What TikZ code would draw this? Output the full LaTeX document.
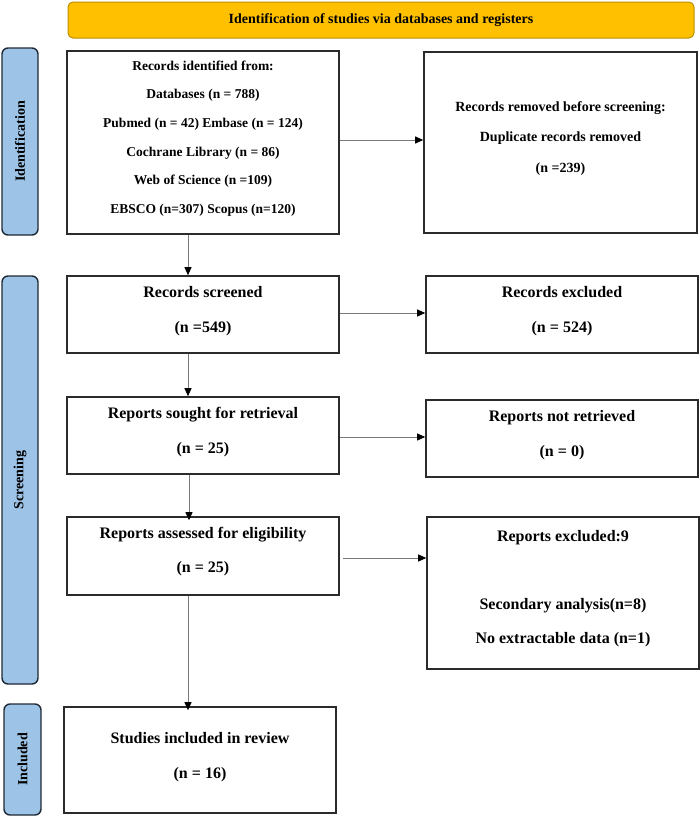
\documentclass[tikz,border=0pt]{standalone}
\usepackage{fontspec}
\setmainfont{Liberation Serif}
\usetikzlibrary{arrows.meta}
\definecolor{gold}{HTML}{FFC000}
\definecolor{goldline}{HTML}{BF9000}
\definecolor{barblue}{HTML}{9DC3E6}
\definecolor{barline}{HTML}{1F2A36}
\definecolor{boxline}{HTML}{2B2B2B}
\definecolor{conn}{HTML}{7A7A7A}
\begin{document}
\begin{tikzpicture}[x=1pt,y=-1pt,
  flowbox/.style={draw=boxline, line width=1.6pt, fill=white, inner sep=0pt},
  boxtext/.style={inner sep=0pt, align=center, font=\fontsize{16}{35}\selectfont\bfseries},
  sidebar/.style={draw=barline, line width=1.4pt, fill=barblue, rounded corners=6pt, inner sep=0pt},
  sidelabel/.style={rotate=90, font=\fontsize{14}{16}\selectfont\bfseries},
  conarrow/.style={draw=conn, line width=0.9pt, -{Triangle[length=8pt,width=7pt,fill=black,color=black]}}
]
\useasboundingbox (0,0) rectangle (700,817);

% header
\node[draw=goldline, line width=1pt, fill=gold, rounded corners=5pt, minimum width=626pt, minimum height=36pt, font=\fontsize{14}{16}\selectfont\bfseries] (head) at (381,20) {Identification of studies via databases and registers};

% side bars
\node[sidebar, minimum width=36pt, minimum height=187pt] (sid) at (20,141.5) {};
\node[sidelabel] (lid) at (sid.center) {Identification};
\node[sidebar, minimum width=36pt, minimum height=408pt] (sscr) at (20,480) {};
\node[sidelabel] (lscr) at (sscr.center) {Screening};
\node[sidebar, minimum width=37pt, minimum height=111pt] (sinc) at (22.5,759.5) {};
\node[sidelabel] (linc) at (sinc.center) {Included};

% boxes
\node[flowbox, minimum width=272pt, minimum height=183pt] (b1) at (203,142.5) {};
\node[boxtext, font=\fontsize{13.5}{28.6}\selectfont\bfseries] (t1) at ([yshift=4pt]b1.center) {Records identified from:\\Databases (n = 788)\\Pubmed (n = 42) Embase (n = 124)\\Cochrane Library (n = 86)\\Web of Science (n =109)\\EBSCO (n=307) Scopus (n=120)};

\node[flowbox, minimum width=273pt, minimum height=181pt] (b2) at (560.5,142.5) {};
\node[boxtext, font=\fontsize{14}{30.5}\selectfont\bfseries] (t2) at ([yshift=4pt]b2.center) {Records removed before screening:\\Duplicate records removed\\(n =239)};

\node[flowbox, minimum width=272pt, minimum height=77pt] (b3) at (203,314.5) {};
\node[boxtext] (t3) at ([yshift=3pt]b3.center) {Records screened\\(n =549)};

\node[flowbox, minimum width=272pt, minimum height=77pt] (b4) at (562,314.5) {};
\node[boxtext] (t4) at ([yshift=3pt]b4.center) {Records excluded\\(n = 524)};

\node[flowbox, minimum width=272pt, minimum height=77pt] (b5) at (203,435.5) {};
\node[boxtext] (t5) at ([yshift=3pt]b5.center) {Reports sought for retrieval\\(n = 25)};

\node[flowbox, minimum width=272pt, minimum height=77pt] (b6) at (562,438.5) {};
\node[boxtext] (t6) at ([yshift=3pt]b6.center) {Reports not retrieved\\(n = 0)};

\node[flowbox, minimum width=272pt, minimum height=78pt] (b7) at (203,556) {};
\node[boxtext, font=\fontsize{16}{34}\selectfont\bfseries] (t7) at ([yshift=4pt]b7.center) {Reports assessed for eligibility\\(n = 25)};

\node[flowbox, minimum width=272pt, minimum height=152pt] (b8) at (563,593) {};
\node[boxtext, font=\fontsize{16}{34}\selectfont\bfseries] (t8) at ([yshift=4pt]b8.center) {Reports excluded:9\\[34pt]Secondary analysis(n=8)\\No extractable data (n=1)};

\node[flowbox, minimum width=272pt, minimum height=106pt] (b9) at (200,760) {};
\node[boxtext] (t9) at ([yshift=3pt]b9.center) {Studies included in review\\(n = 16)};

% connectors
\coordinate (vx) at (188,0);
\coordinate (vx2) at (189,0);
\coordinate (r1) at (0,140);
\coordinate (r3) at (0,313);
\coordinate (r5) at (0,437);
\coordinate (r7) at (0,558);
\coordinate (s7) at (343,558);

\draw[conarrow] (b1.south -| vx) -- (b3.north -| vx);
\draw[conarrow] (b3.south -| vx) -- (b5.north -| vx);
\draw[conarrow] (b5.south -| vx2) -- ([yshift=-4pt]b7.north -| vx2);
\draw[conarrow] (b7.south -| vx) -- ([yshift=-4pt]b9.north -| vx);

\draw[conarrow] (b1.east |- r1) -- (b2.west |- r1);
\draw[conarrow] (b3.east |- r3) -- (b4.west |- r3);
\draw[conarrow] (b5.east |- r5) -- (b6.west |- r5);
\draw[conarrow] (s7) -- (b8.west |- r7);
\end{tikzpicture}
\end{document}
